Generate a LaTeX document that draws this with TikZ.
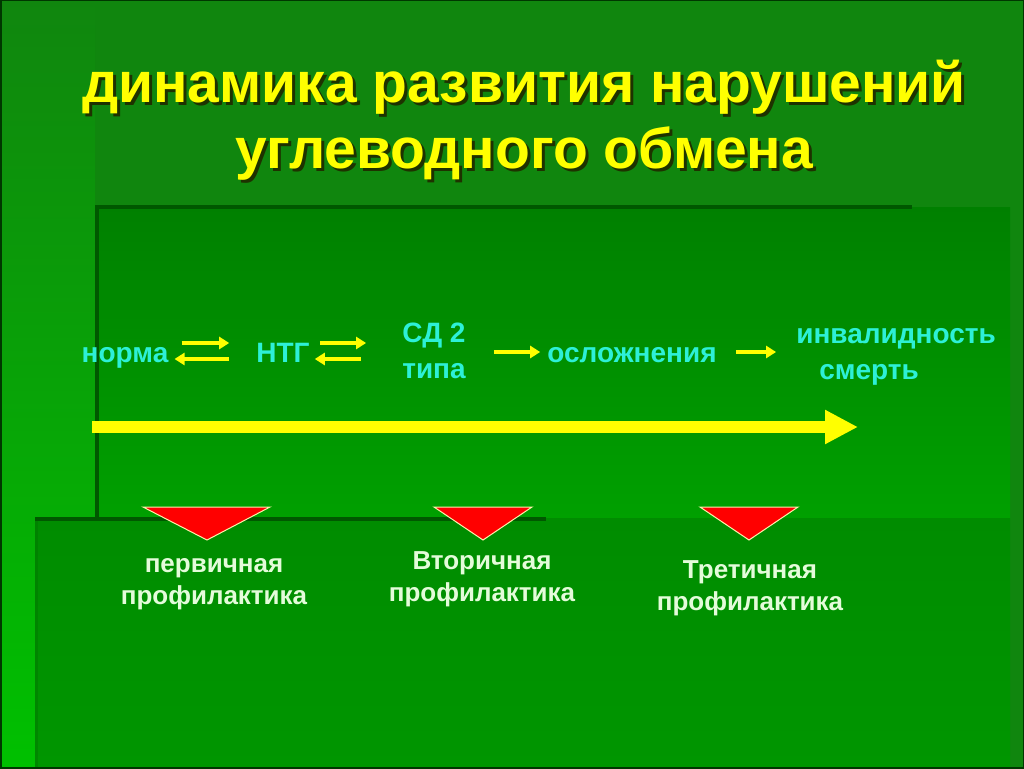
\documentclass[tikz,border=0pt]{standalone}
\usepackage{fontspec}
\setmainfont{Liberation Sans}
\usetikzlibrary{arrows.meta,calc}
\definecolor{bgtop}{RGB}{16,134,14}
\definecolor{bgleft}{RGB}{0,192,0}
\definecolor{innertop}{RGB}{0,128,0}
\definecolor{innerbot}{RGB}{0,160,0}
\definecolor{lowtop}{RGB}{0,140,0}
\definecolor{lowbot}{RGB}{0,150,0}
\definecolor{darkline}{RGB}{0,88,0}
\definecolor{frame}{RGB}{0,55,0}
\definecolor{flowc}{RGB}{45,240,215}
\definecolor{profc}{RGB}{228,252,218}
\definecolor{titley}{RGB}{255,255,0}
\definecolor{shadowc}{RGB}{30,50,0}
\definecolor{arrowy}{RGB}{255,255,0}
\definecolor{trired}{RGB}{255,0,0}
\definecolor{triedge}{RGB}{255,240,170}
\tikzset{
  flow/.style={text=flowc, font=\bfseries\fontsize{28}{36}\selectfont, inner sep=0pt, anchor=base},
  flowone/.style={flow, text height=20pt, text depth=6pt},
  prof/.style={text=profc, font=\bfseries\fontsize{26}{32}\selectfont, inner sep=0pt, align=center, anchor=base},
  titletext/.style={font=\bfseries\fontsize{57}{66}\selectfont, align=center, inner sep=0pt, anchor=base},
  sarrow/.style={draw=arrowy, line width=4pt, -{Triangle[length=10pt,width=12pt]}},
  bigarrow/.style={draw=arrowy, line width=12pt, -{Triangle[length=33pt,width=32pt]}},
  tri/.style={fill=trired, draw=triedge, line width=1pt, line join=miter},
  shadowline/.style={draw=darkline, line width=4pt},
}
\begin{document}
\begin{tikzpicture}[x=1pt,y=-1pt]
\useasboundingbox (0,0) rectangle (1024,768);
% background
\fill[bgtop] (0,0) rectangle (1024,768);
\shade[top color=bgtop, bottom color=bgleft] (0,0) rectangle (95,768);
\shade[top color=innertop, bottom color=innerbot] (95,207) rectangle (1010,518);
\shade[top color=lowtop, bottom color=lowbot] (35,518) rectangle (1010,768);
\fill[innertop!90!black, opacity=0.4] (35,518) rectangle (38,768);
\draw[shadowline] (95,207) -- (912,207);
\draw[shadowline] (97,207) -- (97,518);
\draw[shadowline] (35,519) -- (546,519);
\draw[frame, line width=3pt] (0,0) rectangle (1024,768);
% title
\node[titletext, text=shadowc] (titleshadow) at (527,171) {динамика развития нарушений\\углеводного обмена};
\node[titletext, text=titley] (title) at (524,168) {динамика развития нарушений\\углеводного обмена};
% flow
\node[flowone] (norma) at (125,362) {норма};
\node[flowone] (ntg) at (283,362) {НТГ};
\node[flow, align=center] (sd) at (434,378) {СД 2\\типа};
\node[flowone] (osl) at (632,362) {осложнения};
\node[flow, align=left] (inv) at (896,379) {инвалидность\\\hspace{23pt}смерть};
\draw[sarrow] ($(norma.east)+(13,-12)$) -- ($(ntg.west)+(-27,-12)$);
\draw[sarrow] ($(ntg.west)+(-27,4)$) -- ($(norma.east)+(6,4)$);
\draw[sarrow] ($(ntg.east)+(10,-12)$) -- ($(ntg.east -| sd.west)+(-36,-12)$);
\draw[sarrow] ($(ntg.east -| sd.west)+(-41,4)$) -- ($(ntg.east)+(5,4)$);
\draw[sarrow] ($(osl.west -| sd.east)+(28,-3)$) -- ($(osl.west)+(-7,-3)$);
\draw[sarrow] ($(osl.east)+(19,-3)$) -- ($(osl.east -| inv.west)+(-20,-3)$);
% timeline
\coordinate (tlstart) at (92,427);
\coordinate (tlend) at (858,427);
\draw[bigarrow] (tlstart) -- (tlend);
% triangles
\filldraw[tri] (143,507) -- (270,507) -- (207,540) -- cycle;
\filldraw[tri] (434,507) -- (532,507) -- (483,540) -- cycle;
\filldraw[tri] (700,507) -- (798,507) -- (749,540) -- cycle;
% prophylaxis labels
\node[prof] (p1) at (214,604) {первичная\\профилактика};
\node[prof] (p2) at (482,601) {Вторичная\\профилактика};
\node[prof] (p3) at (750,610) {Третичная\\профилактика};
\end{tikzpicture}
\end{document}
